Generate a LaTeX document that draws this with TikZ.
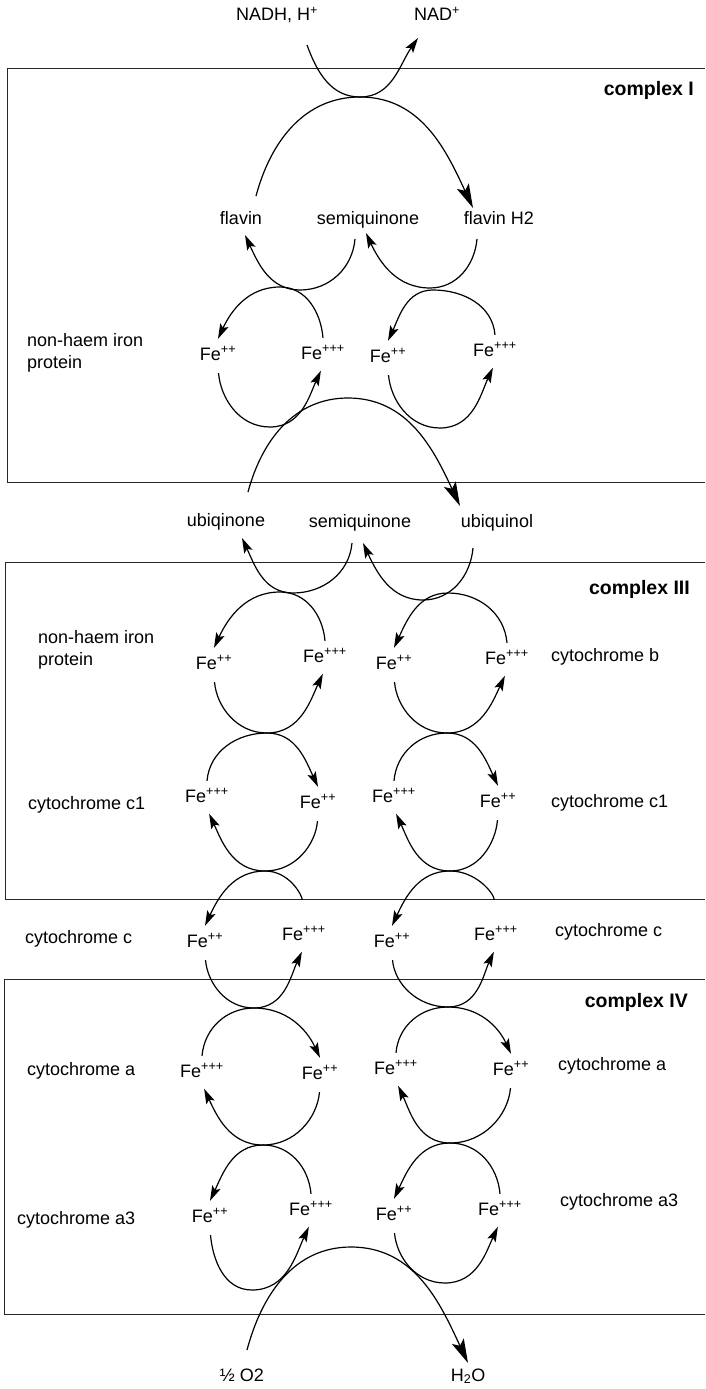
\documentclass[tikz,border=0pt]{standalone}
\usepackage{fontspec}
\setmainfont{Liberation Sans}
\usetikzlibrary{arrows.meta}

\begin{document}
\begin{tikzpicture}[
  x=1pt,
  y=1pt,
  txt/.style={font=\fontsize{18}{21}\selectfont, inner sep=0pt, text height=12pt, text depth=4pt},
  side/.style={font=\fontsize{18}{22}\selectfont, inner sep=0pt, anchor=west, align=left},
  fe/.style={font=\fontsize{18}{21}\selectfont, inner xsep=0pt, inner ysep=7pt, text height=14pt, text depth=0pt},
  cplx/.style={font=\fontsize{19.5}{22}\selectfont\bfseries, inner sep=0pt, anchor=east},
  wall/.style={line width=0.8pt, black!85},
  arr/.style={line width=1.2pt, -{Stealth[length=15pt,width=9pt,inset=3pt]}},
  low/.style={arr, shorten <=6pt, shorten >=5pt},
  bigarr/.style={line width=1.2pt, -{Stealth[length=24pt,width=13pt,inset=5pt]}}
]
\useasboundingbox (0,0) rectangle (705,-1389);

\draw[wall] (705,-68) -| (7,-482) -- (705,-482);
\draw[wall] (705,-562) -| (5,-899) -- (705,-899);
\draw[wall] (705,-979) -| (4,-1314) -- (705,-1314);

\node[txt] (nadh) at (277,-17) {NADH, H\textsuperscript{+}};
\node[txt] (nad) at (437,-17) {NAD\textsuperscript{+}};
\node[cplx] (c1) at (694,-90) {complex I};
\node[txt] (flav) at (241,-220) {flavin};
\node[txt] (sq1) at (368,-220) {semiquinone};
\node[txt] (flavh) at (499,-220) {flavin H2};
\node[side] (nhi1) at (27,-353) {non-haem iron\\protein};
\node[fe] (fe1a) at (218,-353) {Fe\textsuperscript{++}};
\node[fe] (fe1b) at (323,-352) {Fe\textsuperscript{+++}};
\node[fe] (fe1c) at (388,-355) {Fe\textsuperscript{++}};
\node[fe] (fe1d) at (495,-349) {Fe\textsuperscript{+++}};

\node[txt] (ubq) at (226,-522) {ubiqinone};
\node[txt] (sq2) at (360,-523) {semiquinone};
\node[txt] (ubql) at (497,-523) {ubiquinol};
\node[cplx] (c3) at (690,-589) {complex III};
\node[side] (nhi2) at (38,-650) {non-haem iron\\protein};
\node[fe] (fe2a) at (214,-662) {Fe\textsuperscript{++}};
\node[fe] (fe2b) at (325,-655) {Fe\textsuperscript{+++}};
\node[fe] (fe2c) at (394,-662) {Fe\textsuperscript{++}};
\node[fe] (fe2d) at (507,-657) {Fe\textsuperscript{+++}};
\node[side] (cytb) at (551,-657) {cytochrome b};

\node[side] (cc1l) at (28,-805) {cytochrome c1};
\node[fe] (fe3a) at (207,-795) {Fe\textsuperscript{+++}};
\node[fe] (fe3b) at (318,-801) {Fe\textsuperscript{++}};
\node[fe] (fe3c) at (394,-795) {Fe\textsuperscript{+++}};
\node[fe] (fe3d) at (498,-800) {Fe\textsuperscript{++}};
\node[side] (cc1r) at (551,-803) {cytochrome c1};

\node[side] (ccl) at (25,-939) {cytochrome c};
\node[fe] (fe4a) at (205,-940) {Fe\textsuperscript{++}};
\node[fe] (fe4b) at (304,-933) {Fe\textsuperscript{+++}};
\node[fe] (fe4c) at (392,-940) {Fe\textsuperscript{++}};
\node[fe] (fe4d) at (496,-933) {Fe\textsuperscript{+++}};
\node[side] (ccr) at (555,-932) {cytochrome c};

\node[cplx] (c4) at (688,-1002) {complex IV};
\node[side] (cal) at (27,-1071) {cytochrome a};
\node[fe] (fe5a) at (202,-1070) {Fe\textsuperscript{+++}};
\node[fe] (fe5b) at (320,-1072) {Fe\textsuperscript{++}};
\node[fe] (fe5c) at (396,-1067) {Fe\textsuperscript{+++}};
\node[fe] (fe5d) at (511,-1068) {Fe\textsuperscript{++}};
\node[side] (car) at (558,-1066) {cytochrome a};

\node[side] (ca3l) at (17,-1220) {cytochrome a3};
\node[fe] (fe6a) at (210,-1215) {Fe\textsuperscript{++}};
\node[fe] (fe6b) at (311,-1208) {Fe\textsuperscript{+++}};
\node[fe] (fe6c) at (394,-1213) {Fe\textsuperscript{++}};
\node[fe] (fe6d) at (500,-1208) {Fe\textsuperscript{+++}};
\node[side] (ca3r) at (560,-1202) {cytochrome a3};

\node[txt] (o2) at (242,-1377) {½ O2};
\node[txt] (h2o) at (468,-1377) {H\textsubscript{2}O};

\coordinate (kI) at (360,-97);
\coordinate (m1l) at (300,-290);
\coordinate (m1r) at (430,-288);
\coordinate (t1l) at (280,-287);
\coordinate (t1r) at (433,-290);
\coordinate (b1l) at (270,-427);
\coordinate (b1r) at (440,-428);
\coordinate (kQ) at (348,-398);
\coordinate (m2l) at (293,-593);
\coordinate (m2r) at (423,-600);
\coordinate (t2l) at (280,-592);
\coordinate (t2r) at (448,-593);
\coordinate (k23l) at (267,-733);
\coordinate (k23r) at (447,-733);
\coordinate (k34l) at (265,-871);
\coordinate (k34r) at (450,-871);
\coordinate (k45l) at (254,-1008);
\coordinate (k45r) at (448,-1007);
\coordinate (k56l) at (263,-1145);
\coordinate (k56r) at (450,-1143);
\coordinate (b6l) at (252,-1290);
\coordinate (b6r) at (445,-1283);
\coordinate (kO) at (351,-1247);

\draw[arr] ([shift={(30,-28)}]nadh.center) to[out=-70,in=180] (kI) to[out=0,in=-125] ([shift={(-19,-21)}]nad.center);
\draw[bigarr] ([shift={(15,24)}]flav.center) to[out=75,in=180] (kI) to[out=0,in=115] ([shift={(-26,12)}]flavh.center);
\draw[arr] ([shift={(-13,-19)}]sq1.center) to[out=-95,in=0] (m1l) to[out=180,in=-65] ([shift={(4,-15)}]flav.center);
\draw[arr] ([shift={(-22,-19)}]flavh.center) to[out=-95,in=0] (m1r) to[out=180,in=-65] ([shift={(-2,-13)}]sq1.center);

\draw[arr] (fe1b.north) to[out=95,in=0] (t1l) to[out=180,in=65] (fe1a.north);
\draw[arr] (fe1d.north) to[out=95,in=0] (t1r) to[out=180,in=65] (fe1c.north);
\draw[low] (fe1a.south) to[out=-85,in=180] (b1l) to[out=0,in=-115] (fe1b.south);
\draw[low] (fe1c.south) to[out=-85,in=180] (b1r) to[out=0,in=-115] (fe1d.south);

\draw[bigarr] ([shift={(22,30)}]ubq.center) to[out=75,in=180] (kQ) to[out=0,in=115] ([shift={(-37,17)}]ubql.center);
\draw[arr] ([shift={(-8,-20)}]sq2.center) to[out=-95,in=0] (m2l) to[out=180,in=-65] ([shift={(16,-16)}]ubq.center);
\draw[arr] ([shift={(-24,-25)}]ubql.center) to[out=-95,in=0] (m2r) to[out=180,in=-65] ([shift={(3,-20)}]sq2.center);

\draw[arr] (fe2b.north) to[out=95,in=0] (t2l) to[out=180,in=65] (fe2a.north);
\draw[arr] (fe2d.north) to[out=95,in=0] (t2r) to[out=180,in=65] (fe2c.north);
\draw[low] (fe2a.south) to[out=-85,in=180] (k23l) to[out=0,in=-115] (fe2b.south);
\draw[low] (fe2c.south) to[out=-85,in=180] (k23r) to[out=0,in=-115] (fe2d.south);

\draw[arr] (fe3a.north) to[out=85,in=180] (k23l) to[out=0,in=115] (fe3b.north);
\draw[arr] (fe3c.north) to[out=85,in=180] (k23r) to[out=0,in=115] (fe3d.north);
\draw[low] (fe3b.south) to[out=-95,in=0] (k34l) to[out=180,in=-65] (fe3a.south);
\draw[low] (fe3d.south) to[out=-95,in=0] (k34r) to[out=180,in=-65] (fe3c.south);

\draw[arr, shorten <=19pt] (fe4b.north) to[out=95,in=0] (k34l) to[out=180,in=65] (fe4a.north);
\draw[arr, shorten <=19pt] (fe4d.north) to[out=95,in=0] (k34r) to[out=180,in=65] (fe4c.north);
\draw[low] (fe4a.south) to[out=-85,in=180] (k45l) to[out=0,in=-115] (fe4b.south);
\draw[low] (fe4c.south) to[out=-85,in=180] (k45r) to[out=0,in=-115] (fe4d.south);

\draw[arr] (fe5a.north) to[out=85,in=180] (k45l) to[out=0,in=115] (fe5b.north);
\draw[arr] (fe5c.north) to[out=85,in=180] (k45r) to[out=0,in=115] (fe5d.north);
\draw[low] (fe5b.south) to[out=-95,in=0] (k56l) to[out=180,in=-65] (fe5a.south);
\draw[low] (fe5d.south) to[out=-95,in=0] (k56r) to[out=180,in=-65] (fe5c.south);

\draw[arr] (fe6b.north) to[out=95,in=0] (k56l) to[out=180,in=65] (fe6a.north);
\draw[arr] (fe6d.north) to[out=95,in=0] (k56r) to[out=180,in=65] (fe6c.north);
\draw[low] (fe6a.south) to[out=-85,in=180] (b6l) to[out=0,in=-115] (fe6b.south);
\draw[low] (fe6c.south) to[out=-85,in=180] (b6r) to[out=0,in=-115] (fe6d.south);

\draw[bigarr] ([shift={(5,27)}]o2.center) to[out=75,in=180] (kO) to[out=0,in=115] ([shift={(0,14)}]h2o.center);
\end{tikzpicture}
\end{document}
